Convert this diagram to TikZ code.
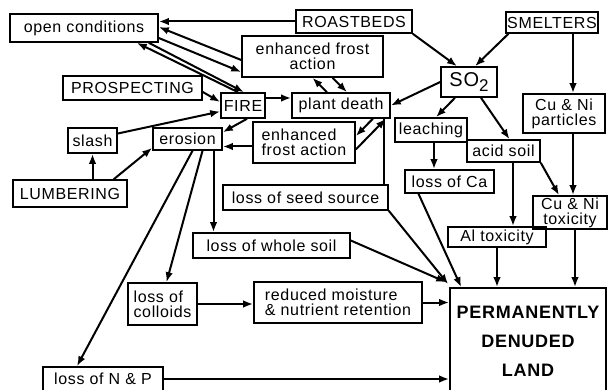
\documentclass[tikz,border=0pt]{standalone}
\usepackage{fontspec}
\setmainfont{Liberation Sans}[LetterSpace=4]
\usetikzlibrary{arrows.meta}

\begin{document}
\begin{tikzpicture}[x=1pt,y=-1pt,
    box/.style={draw,line width=1.6pt,inner sep=1pt,align=center,
      font=\fontsize{16}{15}\selectfont},
    link/.style={line width=2pt,-{Latex[length=10pt,width=7.5pt]}}]
  \useasboundingbox (0,0) rectangle (608,390);
  % top row: sources and first effects
  \node[box,minimum width=148pt,minimum height=28pt] (OpenCond) at (84,28) {open conditions};
  \node[box,minimum width=116pt,minimum height=23pt] (Roastbeds) at (354,21.5) {ROASTBEDS};
  \node[box,minimum width=90pt,minimum height=21pt] (Smelters) at (552,22.5) {SMELTERS};
  \node[box,minimum width=141pt,minimum height=41pt] (FrostUp) at (312.5,56.5) {enhanced frost\\action};
  \node[box,minimum width=139pt,minimum height=24pt] (Prospecting) at (132.5,88) {PROSPECTING};
  \node[box,minimum width=44pt,minimum height=25pt] (Fire) at (243,105.5) {FIRE};
  \node[box,minimum width=98pt,minimum height=25pt] (PlantDeath) at (341,105.5) {plant death};
  \node[box,minimum width=56pt,minimum height=30pt,font=\fontsize{20}{20}\selectfont] (SOtwo) at (469,82) {SO\raisebox{-.45ex}{\fontsize{17}{17}\selectfont 2}};
  \node[box,minimum width=82pt,minimum height=39pt] (CuNiPart) at (564,113.5) {Cu \& Ni\\particles};
  % middle
  \node[box,minimum width=49pt,minimum height=25pt] (Slash) at (92.5,140.5) {slash};
  \node[box,minimum width=69pt,minimum height=22pt] (Erosion) at (187.5,139) {erosion};
  \node[box,minimum width=102pt,minimum height=41pt,align=left] (FrostLow) at (304,142.5) {enhanced\\frost action};
  \node[box,minimum width=72pt,minimum height=24pt] (Leaching) at (431,130) {leaching};
  \node[box,minimum width=73pt,minimum height=22pt] (AcidSoil) at (503.5,151) {acid soil};
  \node[box,minimum width=89pt,minimum height=23pt] (LossCa) at (449.5,181.5) {loss of Ca};
  \node[box,minimum width=114pt,minimum height=27pt] (Lumbering) at (70,193.5) {LUMBERING};
  \node[box,minimum width=165pt,minimum height=25pt] (SeedSource) at (305.5,197.5) {loss of seed source};
  \node[box,minimum width=74pt,minimum height=33pt] (CuNiTox) at (570,212.5) {Cu \& Ni\\toxicity};
  \node[box,minimum width=98pt,minimum height=20pt] (AlTox) at (497,237) {Al toxicity};
  \node[box,minimum width=157pt,minimum height=25pt] (WholeSoil) at (271.5,245.5) {loss of whole soil};
  % bottom
  \node[box,minimum width=69pt,minimum height=42pt,align=left] (Colloids) at (162.5,304) {loss of\\colloids};
  \node[box,minimum width=168pt,minimum height=41pt,align=left] (Moisture) at (338,302.5) {reduced moisture\\\& nutrient retention};
  \node[box,minimum width=120pt,minimum height=24pt] (NandP) at (103,379) {loss of N \& P};
  \node[box,minimum width=156pt,minimum height=106pt,font=\bfseries\fontsize{18}{29}\selectfont] (Denuded) at (528,341) {PERMANENTLY\\DENUDED\\LAND};

  \draw[link] (Roastbeds.west) -- (Roastbeds.west -| OpenCond.east);
  \draw[link] ([yshift=-3.5pt]FrostUp.west) -- ([yshift=1pt]OpenCond.east);
  \draw[link] ([yshift=-10pt]OpenCond.east) -- ([yshift=-15.5pt]FrostUp.west);
  % open conditions <-> FIRE, both ways
  \draw[link] ([xshift=-5pt]Fire.north) -- ([xshift=-22pt]OpenCond.south east);
  \draw[link] ([xshift=-10pt]OpenCond.south east) -- ([xshift=1pt]Fire.north);
  \draw[link] ([yshift=-4pt]Prospecting.east) -- ([yshift=3.5pt]Fire.west);
  \draw[link] ([yshift=7pt]Slash.east) -- ([yshift=-6pt]Fire.west);
  \draw[link] ([yshift=7.5pt]Fire.east) -- ([yshift=7.5pt]Fire.east -| PlantDeath.west);
  \draw[link] ([xshift=4pt]Fire.south) -- ([yshift=-5pt]Erosion.north east);
  \draw[link] ([yshift=-4pt]FrostLow.west) -- ([yshift=-4pt]FrostLow.west -| Erosion.east);
  % plant death <-> frost action
  \draw[link] ([xshift=-14pt]PlantDeath.north) -- (FrostUp.south);
  \draw[link] ([xshift=20pt]FrostUp.south) -- ([xshift=6pt]PlantDeath.north);
  \draw[link] ([xshift=-18pt]PlantDeath.south east) -- ([yshift=6.5pt]FrostLow.east);
  \draw[link] ([yshift=-7pt]FrostLow.east) -- ([xshift=-5pt]PlantDeath.south east);
  \draw[line width=2pt] ([xshift=-7pt]PlantDeath.south east) -- ([xshift=-7pt]PlantDeath.south east |- SeedSource.north);
  % SO2 and smelters
  \draw[link] (SOtwo.west) -- (PlantDeath.east);
  \draw[link] (Roastbeds.south east) -- ([xshift=-12pt]SOtwo.north);
  \draw[link] ([xshift=3pt]Smelters.south west) -- ([xshift=6pt]SOtwo.north);
  \draw[link] ([xshift=-14pt]SOtwo.south) -- ([xshift=5pt]Leaching.north);
  \draw[link] ([xshift=12pt]SOtwo.south) -- ([xshift=6pt]AcidSoil.north);
  \draw[link] ([xshift=9pt]CuNiPart.north |- Smelters.south) -- ([xshift=9pt]CuNiPart.north);
  \draw[link] ([xshift=9pt]CuNiPart.south) -- ([xshift=9pt]CuNiPart.south |- CuNiTox.north);
  \draw[link] ([xshift=3pt]Leaching.south) -- ([xshift=3pt]Leaching.south |- LossCa.north);
  \draw[link] ([xshift=9.5pt]AcidSoil.south) -- ([xshift=9.5pt]AcidSoil.south |- AlTox.north);
  \draw[link] (AcidSoil.south east) -- ([xshift=-11pt]CuNiTox.north);
  % everything ends in denuded land
  \draw[link] ([xshift=5pt]CuNiTox.south) -- ([xshift=5pt]CuNiTox.south |- Denuded.north);
  \draw[link] (AlTox.south) -- (AlTox.south |- Denuded.north);
  \draw[link] ([xshift=-31pt]LossCa.south) -- ([xshift=12pt]Denuded.north west);
  \draw[link] (SeedSource.south east) -- ([xshift=-1pt,yshift=3pt]Denuded.north west);
  \draw[link] ([yshift=5pt]WholeSoil.east) -- ([xshift=-3pt,yshift=5pt]Denuded.north west);
  \draw[link] (Moisture.east) -- (Moisture.east -| Denuded.west);
  \draw[link] (NandP.east) -- (NandP.east -| Denuded.west);
  \draw[link] (Colloids.east) -- (Colloids.east -| Moisture.west);
  % erosion fans out, lumbering feeds in
  \draw[link] ([xshift=26pt]Erosion.south) -- ([xshift=26pt]Erosion.south |- WholeSoil.north);
  \draw[link] ([xshift=15pt]Erosion.south) -- ([xshift=4pt]Colloids.north);
  \draw[link] ([xshift=5pt]Erosion.south) -- ([xshift=-26pt]NandP.north);
  \draw[link] (Slash.south |- Lumbering.north) -- (Slash.south);
  \draw[link] ([xshift=-14pt]Lumbering.north east) -- ([yshift=3pt]Erosion.south west);
\end{tikzpicture}
\end{document}
